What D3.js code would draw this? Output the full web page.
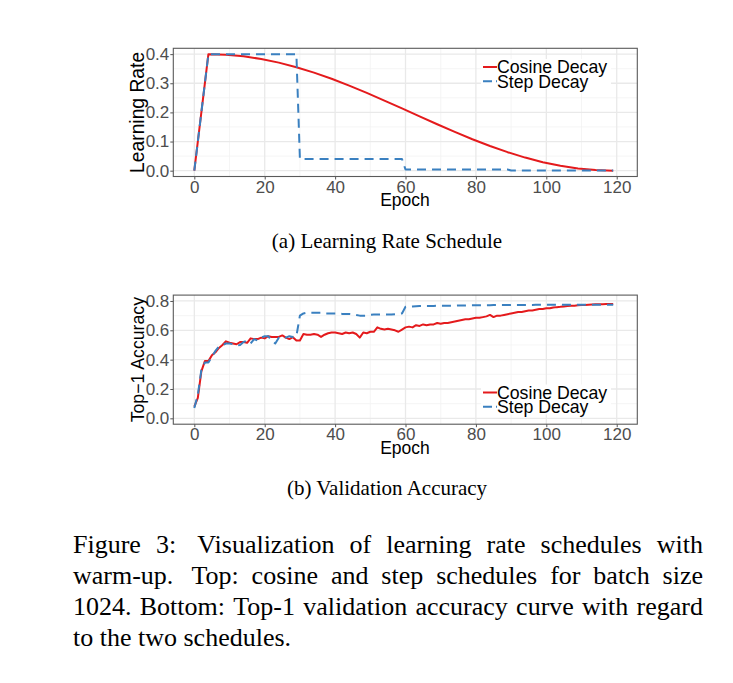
<!DOCTYPE html>
<html><head><meta charset="utf-8">
<script src="https://cdn.jsdelivr.net/npm/d3@7"></script>
<style>body{margin:0;background:#fff}svg{display:block}</style>
</head><body>
<script>
// ---- data ----
const lrEpochs = [0,4,9,14,19,24,29,34,39,44,49,54,59,64,69,74,79,84,89,94,99,104,109,114,119];
const cosineLR = [0,0.4,0.3981,0.3926,0.3834,0.3709,0.3551,0.3365,0.3153,0.2921,0.2671,0.2407,0.2137,0.1864,0.1593,0.1330,0.1079,0.0847,0.0635,0.0449,0.0291,0.0166,0.0074,0.0019,0.0];
const stepEpochs = [0,4,29,30,59,60,89,90,119];
const stepLR = [0,0.4,0.4,0.04,0.04,0.004,0.004,0.0004,0.0004];
const accEpochs = d3.range(0,120);
const cosineAcc = [0.08,0.14,0.32,0.39,0.39,0.43,0.45,0.48,0.50,0.525,
0.515,0.51,0.505,0.52,0.52,0.515,0.545,0.54,0.54,0.55,
0.545,0.56,0.555,0.555,0.555,0.565,0.55,0.54,0.553,0.53,
0.53,0.575,0.57,0.57,0.575,0.57,0.555,0.57,0.58,0.585,
0.585,0.58,0.575,0.585,0.58,0.585,0.575,0.55,0.585,0.58,
0.59,0.59,0.62,0.61,0.605,0.61,0.605,0.60,0.59,0.605,
0.62,0.625,0.62,0.635,0.63,0.64,0.635,0.64,0.64,0.65,
0.645,0.65,0.65,0.655,0.66,0.665,0.67,0.675,0.675,0.68,
0.685,0.685,0.69,0.695,0.705,0.69,0.70,0.70,0.705,0.71,
0.715,0.72,0.725,0.725,0.73,0.735,0.735,0.74,0.745,0.745,
0.75,0.75,0.755,0.758,0.76,0.763,0.765,0.767,0.768,0.77,
0.772,0.773,0.775,0.776,0.777,0.777,0.778,0.779,0.779,0.78];
const stepAcc = [0.07,0.16,0.33,0.38,0.38,0.42,0.46,0.49,0.50,0.51,
0.51,0.505,0.495,0.50,0.52,0.53,0.51,0.54,0.53,0.55,
0.56,0.56,0.53,0.51,0.55,0.56,0.55,0.56,0.555,0.56,
0.70,0.715,0.72,0.72,0.72,0.72,0.72,0.715,0.715,0.715,
0.715,0.715,0.712,0.712,0.712,0.71,0.705,0.70,0.70,0.70,
0.705,0.707,0.708,0.708,0.708,0.708,0.708,0.71,0.712,0.715,
0.76,0.762,0.763,0.764,0.765,0.765,0.766,0.766,0.766,0.767,
0.767,0.767,0.768,0.768,0.768,0.769,0.769,0.769,0.77,0.77,
0.77,0.771,0.771,0.771,0.771,0.772,0.772,0.772,0.772,0.772,
0.773,0.773,0.773,0.773,0.773,0.773,0.773,0.774,0.774,0.774,
0.774,0.774,0.774,0.774,0.774,0.774,0.774,0.774,0.775,0.775,
0.775,0.775,0.775,0.775,0.775,0.775,0.775,0.775,0.775,0.775];
const xTicks = [0,20,40,60,80,100,120];
const xMinor = [10,30,50,70,90,110];
const lrTicks = [0,0.1,0.2,0.3,0.4];
const lrMinor = [0.05,0.15,0.25,0.35];
const accTicks = [0,0.2,0.4,0.6,0.8];
const accMinor = [0.1,0.3,0.5,0.7];
const seriesNames = ["Cosine Decay","Step Decay"];
const captionLines = [
  ["Figure","3:","","Visualization","of","learning","rate","schedules","with"],
  ["warm-up.","","Top:","cosine","and","step","schedules","for","batch","size"],
  ["1024.","Bottom:","Top-1","validation","accuracy","curve","with","regard"],
  ["to","the","two","schedules."]
];

// ---- drawing ----
const W = 733, H = 683;
const svg = d3.select("body").append("svg").attr("width",W).attr("height",H);
const RED = "#e41a1c", BLUE = "#3a80c0";
const SANS = "'Liberation Sans', Arial, sans-serif";
const SERIF = "'Liberation Serif', 'Times New Roman', serif";

function panel(opt){
  const g = svg.append("g");
  const x = d3.scaleLinear().domain([-5.97,125.85]).range([173.3,637.3]);
  const y = d3.scaleLinear().domain(opt.yDomain).range([opt.bottom, opt.top]);
  // grid minor
  g.selectAll(".vm").data(xMinor).join("line")
    .attr("x1",d=>x(d)).attr("x2",d=>x(d)).attr("y1",opt.top).attr("y2",opt.bottom)
    .attr("stroke","#f3f3f3").attr("stroke-width",0.8);
  g.selectAll(".hm").data(opt.yMinor).join("line")
    .attr("x1",173.3).attr("x2",637.3).attr("y1",d=>y(d)).attr("y2",d=>y(d))
    .attr("stroke","#f3f3f3").attr("stroke-width",0.8);
  // grid major
  g.selectAll(".vM").data(xTicks).join("line")
    .attr("x1",d=>x(d)).attr("x2",d=>x(d)).attr("y1",opt.top).attr("y2",opt.bottom)
    .attr("stroke","#e9e9e9").attr("stroke-width",1.3);
  g.selectAll(".hM").data(opt.yTicks).join("line")
    .attr("x1",173.3).attr("x2",637.3).attr("y1",d=>y(d)).attr("y2",d=>y(d))
    .attr("stroke","#e9e9e9").attr("stroke-width",1.3);
  // axes
  const xa = g.append("g").attr("transform",`translate(0,${opt.bottom})`)
    .call(d3.axisBottom(x).tickValues(xTicks).tickSize(3).tickPadding(1).tickFormat(d3.format("d")));
  const ya = g.append("g").attr("transform",`translate(173.3,0)`)
    .call(d3.axisLeft(y).tickValues(opt.yTicks).tickSize(3).tickPadding(1).tickFormat(d3.format(".1f")));
  [xa,ya].forEach(a=>{
    a.select(".domain").remove();
    a.selectAll(".tick line").attr("stroke","#555");
    a.selectAll(".tick text").attr("fill","#4d4d4d").style("font-family",SANS).style("font-size","17px");
  });
  // lines
  opt.series.forEach(s=>{
    const line = d3.line().x((d,i)=>x(s.xs[i])).y(d=>y(d));
    g.append("path").datum(s.ys).attr("d",line).attr("fill","none")
      .attr("stroke",s.color).attr("stroke-width",2)
      .attr("stroke-dasharray",s.dash||null).attr("stroke-linejoin","round");
  });
  // border
  g.append("rect").attr("x",173.3).attr("y",opt.top).attr("width",464).attr("height",opt.bottom-opt.top)
    .attr("fill","none").attr("stroke","#5a5a5a").attr("stroke-width",1.1);
  // legend
  const lg = g.append("g");
  lg.append("rect").attr("x",481).attr("y",opt.legY-8).attr("width",130).attr("height",30).attr("fill","#fff");
  opt.series.forEach((s,i)=>{
    const cy = opt.legY + i*14.3;
    lg.append("line").attr("x1",483).attr("x2",497).attr("y1",cy).attr("y2",cy)
      .attr("stroke",s.color).attr("stroke-width",2).attr("stroke-dasharray",s.dash?"9,4":null);
    lg.append("text").attr("x",497).attr("y",cy+6.3).text(seriesNames[i])
      .style("font-family",SANS).style("font-size","17.7px").attr("fill","#000");
  });
  // titles
  g.append("text").attr("x",405).attr("y",opt.bottom+29.5).attr("text-anchor","middle").text("Epoch")
    .style("font-family",SANS).style("font-size","17.5px");
  g.append("text").attr("transform",`translate(144,${(opt.top+opt.bottom)/2}) rotate(-90)`)
    .attr("text-anchor","middle").text(opt.ylabel).style("font-family",SANS).style("font-size",opt.ylabelSize);
  // subcaption
  svg.append("text").attr("x",387).attr("y",opt.capY).attr("text-anchor","middle").text(opt.caption)
    .style("font-family",SERIF).style("font-size","21px");
}

panel({top:48.3,bottom:176.5,yDomain:[-0.02,0.42],yTicks:lrTicks,yMinor:lrMinor,legY:67,
  ylabel:"Learning Rate",ylabelSize:"19.3px",caption:"(a) Learning Rate Schedule",capY:248,
  series:[{xs:lrEpochs,ys:cosineLR,color:RED},{xs:stepEpochs,ys:stepLR,color:BLUE,dash:"9,6"}]});
panel({top:295.1,bottom:424.2,yDomain:[-0.04,0.84],yTicks:accTicks,yMinor:accMinor,legY:392.5,
  ylabel:"Top\u22121 Accuracy",ylabelSize:"17.7px",caption:"(b) Validation Accuracy",capY:495,
  series:[{xs:accEpochs,ys:cosineAcc,color:RED},{xs:accEpochs,ys:stepAcc,color:BLUE,dash:"9,6"}]});

// caption (justified)
const capL = 73, capR = 703, capFont = 26;
captionLines.forEach((words,li)=>{
  const yB = 553 + li*31;
  const items = [];
  let wt = 1;
  words.forEach(w=>{ if(w===""){ wt = 1.4; } else { items.push({w,wt}); wt = 1; } });
  const texts = items.map(it=>svg.append("text").attr("y",yB).text(it.w)
    .style("font-family",SERIF).style("font-size",capFont+"px").attr("fill","#000"));
  const widths = texts.map(t=>t.node().getComputedTextLength());
  const last = li===captionLines.length-1;
  const total = d3.sum(widths);
  const wsum = d3.sum(items.slice(1),d=>d.wt);
  const unit = last ? capFont*0.25 : (capR-capL-total)/wsum;
  let xx = capL;
  texts.forEach((t,i)=>{
    if(i>0) xx += items[i].wt*unit;
    t.attr("x",xx);
    xx += widths[i];
  });
});
</script>
</body></html>
